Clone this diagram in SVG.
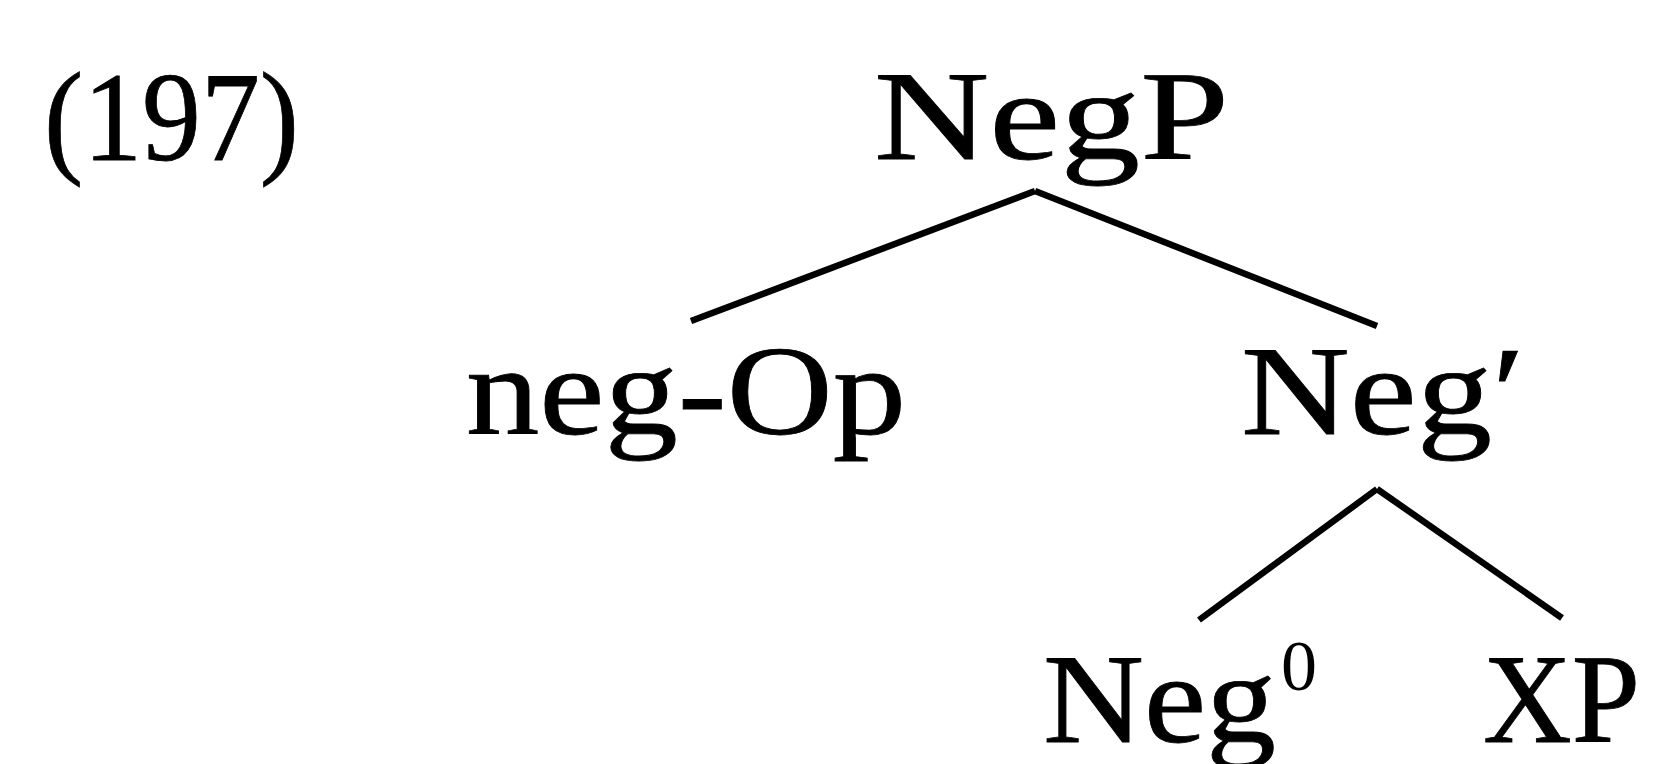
<svg xmlns="http://www.w3.org/2000/svg" width="1661" height="764" viewBox="0 0 1661 764">
<style>
.t{font-family:"Liberation Serif","Times New Roman",serif;font-size:128px;fill:#000;stroke:#000;stroke-width:0.8}
.sup{font-family:"Liberation Serif","Times New Roman",serif;font-size:72px;fill:#000}
.e{stroke:#000;stroke-width:6.5;fill:none;stroke-linecap:butt}
</style>
<rect width="1661" height="764" fill="#fff"/>
<text class="t" x="44" y="160" textLength="255" lengthAdjust="spacingAndGlyphs">(197)</text>
<g id="connectors">
<line class="e" x1="1035" y1="191" x2="691" y2="321"/>
<line class="e" x1="1035" y1="191" x2="1377" y2="326"/>
<line class="e" x1="1377" y1="489" x2="1199" y2="620"/>
<line class="e" x1="1377" y1="489" x2="1562" y2="618"/>
</g>
<g id="NegP"><text class="t" x="874" y="159" textLength="355" lengthAdjust="spacingAndGlyphs">NegP</text></g>
<g id="negOp"><text class="t" x="466" y="434" textLength="440" lengthAdjust="spacingAndGlyphs">neg-Op</text></g>
<g id="NegBar"><text class="t" x="1241" y="434" textLength="284" lengthAdjust="spacingAndGlyphs">Neg′</text></g>
<g id="Neg0"><text class="t" x="1043" y="742" textLength="233" lengthAdjust="spacingAndGlyphs">Neg</text><text class="sup" x="1281" y="690">0</text></g>
<g id="XP"><text class="t" x="1483" y="742" textLength="157" lengthAdjust="spacingAndGlyphs">XP</text></g>
</svg>
